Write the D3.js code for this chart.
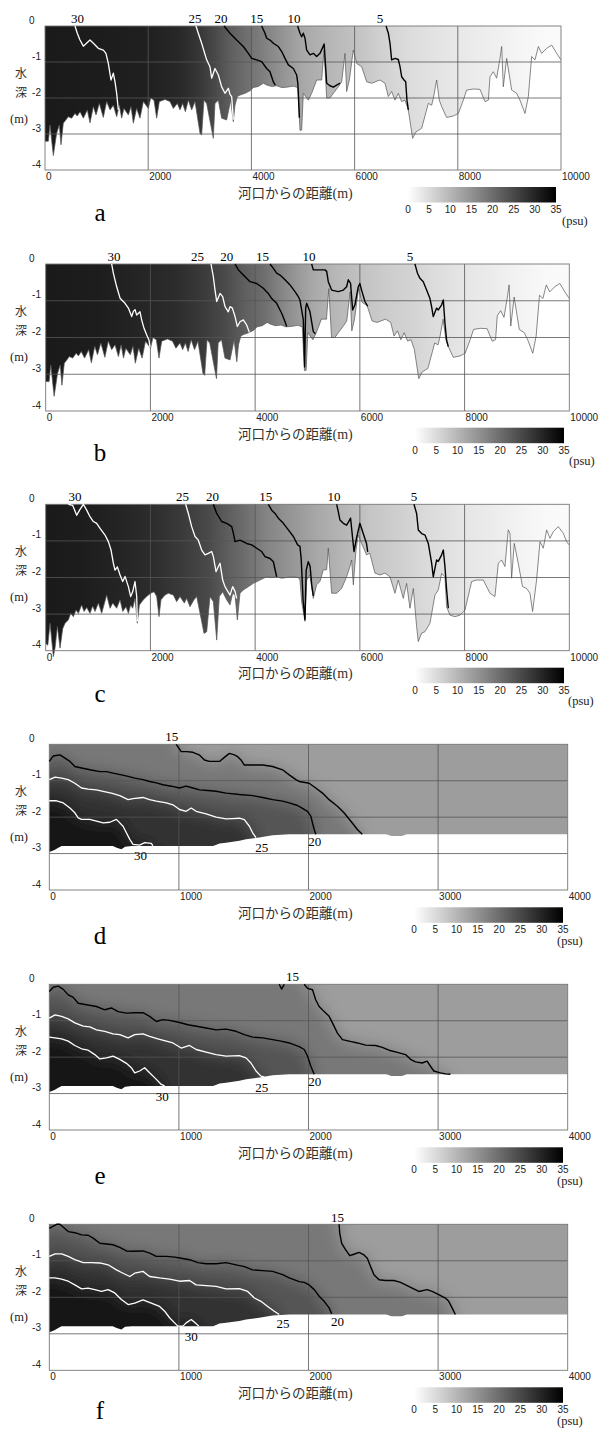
<!DOCTYPE html>
<html>
<head>
<meta charset="utf-8">
<script src="https://cdnjs.cloudflare.com/ajax/libs/d3/7.8.5/d3.min.js"></script>
<style>
body { margin:0; background:#fff; }
svg { display:block; }
</style>
</head>
<body>
<svg id="svg" width="600" height="1429"></svg>
<script>
// ---- data (distance m, elevation m) ----
var yTicks = [0,-1,-2,-3,-4];
var xTicksLong = [0,2000,4000,6000,8000,10000];
var xTicksShort = [0,1000,2000,3000,4000];
var cbTicks = [0,5,10,15,20,25,30,35];

// river bed, panels a & b
var bedA = [[0,-3.2],[65,-3.2],[97,-2.75],[161,-3.6],[226,-2.98],[277,-2.75],[310,-3.3],[355,-2.7],[452,-2.52],[517,-2.56],[581,-2.43],[626,-2.5],[678,-2.38],[743,-2.56],[820,-2.33],[872,-2.69],[937,-2.24],[989,-2.47],[1053,-2.15],[1130,-2.54],[1195,-2.1],[1260,-2.33],[1324,-2.2],[1389,-2.52],[1440,-2.2],[1486,-2.56],[1530,-2.29],[1615,-2.47],[1667,-2.24],[1712,-2.7],[1776,-2.29],[1841,-2.56],[1906,-2.1],[2003,-2.29],[2048,-2.0],[2112,-2.06],[2164,-2.56],[2216,-2.1],[2326,-2.04],[2422,-2.1],[2487,-2.29],[2564,-2.15],[2616,-2.33],[2668,-2.15],[2720,-2.38],[2778,-2.06],[2843,-2.33],[2907,-2.1],[3004,-2.98],[3036,-3.03],[3081,-2.06],[3133,-2.15],[3262,-3.12],[3294,-2.15],[3359,-2.06],[3424,-2.56],[3521,-2.61],[3598,-2.06],[3650,-2.66],[3682,-2.2],[3727,-1.96],[3779,-1.92],[3876,-1.87],[3973,-1.8],[4037,-1.71],[4134,-1.68],[4231,-1.59],[4296,-1.64],[4393,-1.68],[4490,-1.66],[4587,-1.71],[4684,-1.7],[4813,-1.67],[4900,-1.71],[4942,-2.9],[4974,-2.89],[5006,-1.87],[5103,-2.06],[5168,-1.87],[5265,-1.5],[5362,-1.5],[5407,-0.67],[5459,-2.0],[5523,-2.0],[5588,-1.87],[5685,-1.69],[5749,-1.55],[5814,-0.76],[5846,-1.82],[5898,-1.5],[5975,-0.67],[6040,-1.04],[6137,-1.13],[6234,-1.55],[6331,-1.59],[6491,-1.5],[6589,-1.59],[6653,-1.96],[6718,-1.82],[6783,-2.06],[6847,-1.87],[6912,-2.1],[6977,-2.06],[7041,-2.33],[7125,-3.12],[7190,-2.94],[7300,-2.84],[7429,-2.15],[7493,-2.2],[7526,-2.01],[7590,-1.5],[7642,-2.06],[7687,-2.24],[7784,-2.54],[7913,-2.5],[8010,-2.43],[8107,-2.06],[8171,-1.78],[8300,-1.75],[8430,-1.76],[8527,-2.1],[8592,-2.06],[8624,-1.41],[8688,-1.27],[8753,-1.45],[8818,-0.9],[8850,-0.57],[8882,-1.69],[8947,-0.9],[9044,-1.78],[9141,-1.87],[9205,-2.06],[9302,-2.43],[9367,-1.96],[9431,-0.85],[9496,-0.94],[9561,-0.57],[9625,-0.76],[9722,-0.62],[9819,-0.53],[9916,-0.76],[10000,-0.94]];

// river bed, panel c
var bedC = [[0,-3.8],[40,-3.85],[83,-3.25],[146,-4.16],[178,-3.93],[223,-3.34],[274,-3.93],[325,-3.4],[369,-3.25],[433,-3.16],[477,-2.98],[528,-3.07],[579,-2.89],[624,-2.98],[687,-2.75],[732,-2.93],[783,-2.82],[846,-2.98],[897,-2.78],[942,-2.93],[1006,-2.7],[1069,-2.98],[1165,-2.48],[1229,-2.84],[1280,-2.7],[1356,-2.84],[1420,-2.61],[1471,-2.93],[1534,-2.8],[1579,-2.98],[1623,-2.75],[1661,-2.84],[1706,-2.57],[1750,-3.25],[1789,-2.75],[1865,-2.61],[1929,-2.52],[2005,-2.43],[2069,-2.39],[2120,-2.52],[2164,-3.07],[2202,-2.61],[2279,-2.48],[2342,-2.43],[2438,-2.48],[2501,-2.66],[2565,-2.52],[2647,-2.7],[2692,-2.57],[2756,-2.8],[2832,-2.61],[2884,-2.52],[2948,-2.98],[3024,-3.53],[3075,-3.48],[3138,-2.52],[3202,-2.66],[3266,-3.71],[3316,-2.52],[3380,-2.39],[3456,-2.61],[3520,-2.75],[3571,-2.43],[3616,-2.48],[3660,-3.16],[3711,-2.43],[3775,-2.34],[3870,-2.25],[3966,-2.16],[4093,-2.07],[4220,-1.98],[4316,-2.0],[4411,-1.98],[4507,-2.02],[4602,-2.0],[4698,-1.98],[4825,-2.0],[4856,-2.07],[4888,-2.66],[4952,-3.2],[4984,-2.07],[5047,-1.93],[5111,-2.57],[5174,-2.2],[5238,-2.11],[5302,-1.79],[5366,-1.79],[5397,-1.2],[5461,-2.43],[5557,-2.43],[5652,-2.3],[5747,-1.98],[5811,-1.7],[5843,-1.52],[5875,-2.2],[5926,-1.25],[5969,-0.84],[6033,-1.07],[6127,-1.38],[6190,-1.34],[6289,-1.88],[6384,-1.93],[6479,-1.88],[6575,-1.98],[6670,-2.43],[6734,-2.07],[6829,-2.57],[6893,-2.16],[6957,-2.84],[7021,-2.3],[7084,-3.34],[7116,-3.75],[7180,-3.52],[7244,-3.48],[7339,-3.25],[7434,-2.48],[7498,-2.34],[7562,-1.89],[7625,-1.98],[7657,-2.8],[7721,-3.03],[7816,-3.07],[7913,-3.03],[8008,-2.89],[8135,-2.11],[8231,-2.07],[8357,-2.07],[8485,-2.43],[8580,-2.52],[8644,-1.61],[8707,-1.52],[8771,-1.7],[8834,-0.7],[8866,-0.79],[8898,-2.02],[8949,-1.07],[9025,-1.61],[9107,-2.25],[9184,-2.3],[9248,-2.43],[9299,-2.93],[9375,-2.07],[9440,-1.02],[9503,-1.2],[9567,-0.7],[9630,-0.93],[9694,-0.75],[9790,-0.61],[9885,-0.79],[9948,-1.02],[10000,-1.11]];

// river bed, panels d e f
var bedD = [[0,-2.96],[40,-2.9],[69,-2.84],[95,-2.79],[490,-2.79],[520,-2.84],[556,-2.88],[585,-2.81],[636,-2.79],[1264,-2.79],[1313,-2.72],[1364,-2.7],[1467,-2.65],[1518,-2.61],[1620,-2.56],[1723,-2.5],[1851,-2.47],[2600,-2.47],[2640,-2.52],[2720,-2.52],[2760,-2.47],[4000,-2.47]];

// salinity along the channel (psu), a b c
var salA = [[0,31.5],[1000,31.2],[2000,30.6],[2600,29.5],[3000,27.5],[3300,25],[3600,22],[3950,19.5],[4500,15.5],[5000,12],[5500,10],[6000,8.5],[6500,6.5],[7000,5],[7500,4],[8000,3.2],[8500,2.5],[9000,1.8],[9500,1],[10000,0.5]];
var salB = [[0,31.5],[1000,31],[1600,30.2],[2500,29],[3000,27],[3400,25],[3800,22],[4150,20],[4700,15],[5100,12],[5500,10],[6000,8.5],[6500,7],[7000,6],[7350,5],[8000,3.5],[8500,2.7],[9000,1.8],[9500,1],[10000,0.5]];
var salC = [[0,31.5],[700,31],[1300,30.2],[2000,29],[2600,27],[3100,25],[3500,22],[3800,20],[4200,17],[4600,15],[5200,12],[5700,10],[6200,8],[6800,6.5],[7300,5],[8000,3.5],[8500,2.7],[9000,1.8],[9500,1],[10000,0.5]];

// salinity of the layers between isohalines, d e f
var bandLevels = [15,20,25,30];
var bandFill = [13.5,18.5,23.5,28,32.5];

// isohalines [level, points]
var contA = [
  [30,[[581,0],[626,-0.2],[678,-0.39],[743,-0.56],[820,-0.46],[872,-0.39],[937,-0.48],[1033,-0.62],[1130,-0.67],[1181,-0.76],[1227,-1.04],[1279,-1.5],[1324,-1.31],[1357,-1.55],[1389,-1.87],[1421,-2.33]]],
  [25,[[2926,0],[2971,-0.2],[3036,-0.48],[3133,-0.94],[3197,-1.13],[3230,-1.45],[3294,-1.18],[3359,-1.36],[3424,-1.69],[3488,-1.87],[3553,-1.73],[3585,-1.9],[3618,-1.96],[3650,-2.6]]],
  [20,[[3469,0],[3585,-0.2],[3714,-0.39],[3843,-0.57],[3941,-0.76],[4005,-0.9],[4102,-0.94],[4199,-0.99],[4296,-1.18],[4360,-1.27],[4425,-1.55],[4464,-1.64]]],
  [15,[[4199,0],[4263,-0.2],[4296,-0.34],[4360,-0.39],[4425,-0.48],[4522,-0.57],[4587,-0.71],[4651,-0.9],[4716,-1.08],[4813,-1.18],[4877,-1.36],[4900,-1.6],[4910,-1.9],[4930,-2.55]]],
  [10,[[4895,0],[4942,-0.2],[4974,-0.3],[5006,-0.2],[5039,-0.34],[5071,-0.67],[5136,-0.8],[5200,-0.76],[5265,-0.85],[5330,-0.76],[5380,-0.6],[5410,-0.5],[5459,-1.59],[5523,-1.66],[5588,-1.7],[5652,-1.64],[5717,-1.59]]],
  [5,[[6609,0],[6654,-0.2],[6686,-0.48],[6718,-0.94],[6783,-0.9],[6847,-0.93],[6880,-1.13],[6912,-1.41],[6958,-1.5],[6990,-1.55],[7015,-2.06],[7041,-2.33]]]
];
var contB = [
  [30,[[1260,0],[1292,-0.25],[1356,-0.62],[1420,-0.93],[1515,-1.07],[1579,-1.2],[1642,-1.43],[1674,-1.29],[1706,-1.24],[1738,-1.39],[1801,-1.3],[1833,-1.52],[1878,-1.75],[1929,-1.93],[1973,-2.07],[1992,-2.27]]],
  [25,[[3157,0],[3201,-0.34],[3234,-0.71],[3266,-1.02],[3329,-0.8],[3380,-0.89],[3425,-1.16],[3488,-1.3],[3520,-1.16],[3565,-1.2],[3616,-1.43],[3660,-1.7],[3711,-1.57],[3775,-1.52],[3838,-1.66],[3889,-1.86]]],
  [20,[[3616,0],[3679,-0.16],[3775,-0.3],[3902,-0.48],[4029,-0.53],[4156,-0.66],[4252,-0.8],[4316,-0.94],[4411,-1.07],[4507,-1.34],[4571,-1.57],[4602,-1.7]]],
  [15,[[4284,0],[4348,-0.12],[4411,-0.25],[4475,-0.3],[4570,-0.43],[4666,-0.57],[4761,-0.75],[4825,-0.89],[4856,-0.98],[4888,-1.25],[4920,-1.52],[4945,-2.8],[4965,-1.2],[4984,-1.07],[5047,-1.3],[5111,-1.84],[5150,-1.9]]],
  [10,[[5079,0],[5111,-0.16],[5238,-0.16],[5334,-0.16],[5366,-0.2],[5397,-0.48],[5461,-0.71],[5588,-0.75],[5684,-0.71],[5747,-0.62],[5779,-0.43],[5823,-0.53],[5862,-1.25],[5906,-1.11],[5969,-0.62],[6000,-0.53],[6033,-0.71],[6097,-1.02],[6150,-1.15]]],
  [5,[[7052,0],[7100,-0.25],[7148,-0.39],[7211,-0.48],[7275,-0.71],[7339,-0.94],[7370,-1.16],[7402,-1.43],[7466,-1.2],[7498,-1.25],[7562,-1.11],[7594,-0.98],[7625,-1.61],[7657,-2.07],[7689,-2.25]]]
];
var contC = [
  [30,[[433,0],[516,-0.03],[592,-0.3],[655,-0.14],[719,0],[783,-0.16],[846,-0.34],[910,-0.47],[974,-0.52],[1038,-0.66],[1133,-0.84],[1197,-1.02],[1248,-1.25],[1292,-1.61],[1324,-1.8],[1369,-1.71],[1420,-1.93],[1471,-2.11],[1515,-1.97],[1579,-2.25],[1623,-2.52],[1661,-2.39],[1706,-2.11],[1738,-2.52],[1750,-3.2]]],
  [25,[[2673,0],[2724,-0.25],[2788,-0.61],[2852,-0.88],[2915,-0.98],[2979,-1.25],[3043,-1.38],[3106,-1.34],[3170,-1.29],[3202,-1.43],[3253,-1.84],[3297,-1.7],[3329,-1.61],[3380,-2.07],[3424,-2.25],[3520,-2.48],[3571,-2.25],[3616,-2.38],[3647,-2.57]]],
  [20,[[3202,0],[3266,-0.25],[3361,-0.47],[3456,-0.52],[3552,-0.61],[3584,-0.79],[3616,-1.02],[3711,-0.98],[3838,-1.07],[3934,-1.11],[4029,-1.2],[4125,-1.29],[4188,-1.43],[4284,-1.48],[4348,-1.57],[4411,-1.98]]],
  [15,[[4252,0],[4316,-0.16],[4380,-0.25],[4443,-0.38],[4539,-0.52],[4634,-0.7],[4730,-0.88],[4812,-1.11],[4856,-1.15],[4880,-1.5],[4915,-2.6],[4952,-3.15],[4975,-1.8],[5015,-1.57],[5050,-1.7],[5080,-2.2],[5111,-2.5]]],
  [10,[[5557,0],[5588,-0.2],[5620,-0.43],[5684,-0.52],[5747,-0.57],[5785,-0.48],[5823,-0.38],[5862,-0.93],[5888,-1.29],[5940,-0.9],[6000,-0.52],[6063,-0.79],[6127,-1.07],[6150,-1.3]]],
  [5,[[7033,0],[7084,-0.25],[7116,-0.7],[7180,-0.8],[7244,-0.84],[7307,-1.07],[7371,-1.61],[7402,-1.98],[7466,-1.52],[7498,-1.56],[7562,-1.38],[7594,-1.25],[7625,-1.7],[7657,-2.34],[7689,-2.84]]]
];
var contD = [
  [15,[[979,0],[1018,-0.2],[1060,-0.2],[1108,-0.22],[1160,-0.3],[1197,-0.43],[1236,-0.47],[1313,-0.47],[1351,-0.36],[1390,-0.25],[1428,-0.29],[1454,-0.34],[1479,-0.43],[1505,-0.57],[1569,-0.57],[1646,-0.57],[1723,-0.61],[1800,-0.7],[1851,-0.84],[1903,-0.97],[1928,-1.02],[2005,-1.07],[2056,-1.2],[2108,-1.34],[2159,-1.52],[2223,-1.7],[2274,-1.88],[2338,-2.16],[2377,-2.34],[2415,-2.47]]],
  [20,[[0,-0.47],[31,-0.32],[82,-0.29],[121,-0.38],[159,-0.47],[197,-0.61],[249,-0.65],[313,-0.7],[390,-0.75],[441,-0.75],[492,-0.79],[556,-0.84],[608,-0.88],[659,-0.93],[723,-0.97],[774,-1.02],[826,-1.06],[877,-1.11],[941,-1.15],[1005,-1.2],[1056,-1.15],[1108,-1.2],[1159,-1.25],[1223,-1.27],[1287,-1.29],[1364,-1.34],[1467,-1.38],[1569,-1.41],[1646,-1.46],[1723,-1.52],[1800,-1.56],[1851,-1.61],[1915,-1.68],[1950,-1.75],[1992,-1.84],[2018,-1.97],[2031,-2.16],[2044,-2.34],[2056,-2.47]]],
  [25,[[0,-0.97],[44,-0.9],[95,-0.93],[146,-0.97],[197,-1.07],[249,-1.2],[300,-1.23],[364,-1.25],[415,-1.29],[479,-1.34],[544,-1.41],[608,-1.52],[646,-1.49],[723,-1.46],[774,-1.52],[826,-1.56],[903,-1.61],[954,-1.66],[1005,-1.79],[1056,-1.84],[1095,-1.75],[1133,-1.84],[1210,-1.91],[1287,-2.0],[1364,-2.05],[1415,-2.04],[1467,-2.03],[1505,-2.07],[1544,-2.25],[1569,-2.43],[1595,-2.56]]],
  [30,[[0,-1.55],[56,-1.55],[108,-1.61],[159,-1.75],[197,-1.88],[223,-2.02],[249,-2.06],[313,-2.06],[364,-2.11],[415,-2.16],[467,-2.14],[518,-2.06],[569,-2.25],[595,-2.43],[621,-2.61],[646,-2.75],[697,-2.77],[736,-2.7],[787,-2.72],[800,-2.79]]]
];
var contE = [
  [15,[[1967,0],[1992,-0.11],[2031,-0.15],[2056,-0.43],[2082,-0.61],[2121,-0.75],[2159,-0.88],[2185,-1.06],[2223,-1.34],[2262,-1.52],[2313,-1.56],[2377,-1.61],[2441,-1.67],[2518,-1.68],[2569,-1.73],[2621,-1.81],[2685,-1.87],[2749,-1.93],[2787,-2.06],[2826,-2.13],[2877,-2.16],[2915,-2.11],[2941,-2.25],[2967,-2.38],[3018,-2.43],[3056,-2.46],[3095,-2.47]]],
  [20,[[0,-0.2],[31,-0.08],[69,-0.05],[108,-0.14],[146,-0.29],[185,-0.36],[223,-0.52],[287,-0.56],[364,-0.61],[428,-0.7],[479,-0.65],[531,-0.75],[595,-0.79],[659,-0.78],[723,-0.78],[774,-0.88],[826,-1.02],[877,-0.97],[928,-0.99],[1005,-1.05],[1069,-1.11],[1146,-1.16],[1210,-1.2],[1287,-1.25],[1364,-1.23],[1441,-1.29],[1505,-1.38],[1569,-1.45],[1646,-1.47],[1723,-1.52],[1787,-1.56],[1851,-1.61],[1928,-1.71],[1967,-1.79],[1992,-1.97],[2018,-2.25],[2044,-2.47]]],
  [25,[[0,-0.93],[44,-0.84],[95,-0.88],[146,-0.95],[197,-1.06],[262,-1.15],[313,-1.17],[364,-1.25],[428,-1.29],[492,-1.36],[544,-1.38],[608,-1.47],[659,-1.38],[723,-1.36],[774,-1.43],[838,-1.5],[903,-1.56],[954,-1.61],[1018,-1.75],[1082,-1.68],[1133,-1.79],[1210,-1.86],[1287,-1.93],[1364,-1.97],[1467,-1.96],[1518,-2.02],[1556,-2.16],[1595,-2.38],[1633,-2.52],[1659,-2.54]]],
  [30,[[0,-1.45],[44,-1.47],[95,-1.5],[146,-1.56],[197,-1.68],[249,-1.77],[300,-1.81],[351,-1.93],[390,-2.05],[441,-2.02],[492,-1.97],[544,-2.06],[595,-2.17],[633,-2.29],[659,-2.43],[697,-2.38],[736,-2.29],[774,-2.43],[826,-2.61],[864,-2.75],[890,-2.79]]],
  [15,[[1774,0],[1792,-0.13],[1813,0]]]
];
var contF = [
  [15,[[2236,0],[2241,-0.25],[2256,-0.52],[2287,-0.7],[2318,-0.86],[2351,-0.82],[2390,-0.77],[2428,-0.84],[2454,-0.93],[2479,-1.16],[2505,-1.38],[2544,-1.52],[2595,-1.54],[2659,-1.54],[2710,-1.59],[2749,-1.66],[2800,-1.75],[2851,-1.84],[2915,-1.79],[2954,-1.84],[3005,-1.93],[3056,-2.02],[3082,-2.11],[3108,-2.29],[3133,-2.47]]],
  [20,[[0,-0.11],[31,-0.05],[56,0],[82,0],[108,-0.08],[146,-0.2],[197,-0.23],[249,-0.29],[300,-0.3],[338,-0.38],[390,-0.52],[441,-0.54],[492,-0.56],[544,-0.63],[595,-0.73],[646,-0.74],[723,-0.73],[774,-0.79],[826,-0.88],[903,-0.88],[967,-0.9],[1018,-0.93],[1082,-0.97],[1146,-1.05],[1210,-1.08],[1287,-1.08],[1364,-1.05],[1441,-1.11],[1505,-1.16],[1569,-1.25],[1646,-1.27],[1723,-1.29],[1800,-1.38],[1851,-1.47],[1928,-1.57],[1967,-1.59],[2005,-1.66],[2044,-1.79],[2082,-1.97],[2121,-2.11],[2159,-2.29],[2179,-2.45]]],
  [25,[[0,-0.88],[44,-0.81],[95,-0.81],[146,-0.88],[197,-0.97],[262,-1.05],[326,-1.05],[390,-1.06],[454,-1.11],[518,-1.25],[569,-1.34],[621,-1.43],[659,-1.34],[723,-1.29],[774,-1.43],[851,-1.47],[928,-1.5],[1005,-1.56],[1082,-1.54],[1133,-1.66],[1210,-1.68],[1287,-1.7],[1364,-1.77],[1467,-1.76],[1531,-1.84],[1582,-2.02],[1633,-2.11],[1685,-2.25],[1736,-2.38],[1774,-2.47]]],
  [30,[[0,-1.47],[44,-1.47],[95,-1.5],[146,-1.56],[197,-1.66],[249,-1.77],[300,-1.75],[351,-1.79],[403,-1.84],[454,-1.79],[505,-1.88],[556,-2.06],[608,-2.2],[659,-2.16],[723,-2.07],[787,-2.16],[851,-2.25],[890,-2.38],[928,-2.56],[967,-2.7],[992,-2.79],[1031,-2.79],[1056,-2.7],[1095,-2.61],[1125,-2.7],[1154,-2.79]]]
];

// isohaline labels [level, distance, elevation of baseline]
var labA = [[30,630,0.08],[25,2907,0.08],[20,3411,0.08],[15,4102,0.08],[10,4826,0.08],[5,6492,0.08]];
var labB = [[30,1304,0.08],[25,2899,0.08],[20,3457,0.08],[15,4141,0.08],[10,5029,0.08],[5,6957,0.08]];
var labC = [[30,560,0.08],[25,2612,0.08],[20,3186,0.08],[15,4203,0.08],[10,5506,0.08],[5,7034,0.08]];
var labD = [[15,944,0.09],[20,2048,-2.8],[25,1640,-2.96],[30,704,-3.18]];
var labE = [[15,1877,0.1],[20,2048,-2.79],[25,1640,-2.97],[30,871,-3.2]];
var labF = [[15,2223,0.07],[20,2223,-2.79],[25,1804,-2.83],[30,1095,-3.2]];

// ---- layout ----
var panels = [
  {id:'a', xmax:10000, ticks:xTicksLong, left:45, right:561, top:26, bottom:170, cb:[408,556,187], bed:bedA, sal:salA, cont:contA, lab:labA, letterY:221, psuDx:6},
  {id:'b', xmax:10000, ticks:xTicksLong, left:45.7, right:569.3, top:264, bottom:411, cb:[415,564,427.7], bed:bedA, sal:salB, cont:contB, lab:labB, letterY:461, psuDx:5},
  {id:'c', xmax:10000, ticks:xTicksLong, left:45.7, right:569.3, top:504.3, bottom:650.7, cb:[415,564,667.7], bed:bedC, sal:salC, cont:contC, lab:labC, letterY:702, psuDx:4},
  {id:'d', xmax:4000, ticks:xTicksShort, left:49.3, right:567.7, top:744.3, bottom:890, cb:[414,563,907.3], bed:bedD, cont:contD, lab:labD, letterY:944, psuDx:-6},
  {id:'e', xmax:4000, ticks:xTicksShort, left:49.3, right:567.7, top:984.3, bottom:1130, cb:[414,563,1147.3], bed:bedD, cont:contE, lab:labE, letterY:1184, psuDx:-6},
  {id:'f', xmax:4000, ticks:xTicksShort, left:49.3, right:567.7, top:1224.3, bottom:1370.3, cb:[414,563,1387.3], bed:bedD, cont:contF, lab:labF, letterY:1419, psuDx:-6}
];

var sans = '"Liberation Sans", Arial, sans-serif';
var serif = '"Liberation Serif", "Times New Roman", serif';
var cjk = '"Noto Sans CJK JP", sans-serif';

var svg = d3.select('svg');
var defs = svg.append('defs');
var grey = d3.scaleLinear().domain([0,35]).range(['#ffffff','#000000']);

defs.append('filter')
    .attr('id','soft')
    .attr('x','-30%').attr('y','-30%').attr('width','160%').attr('height','160%')
    .append('feGaussianBlur')
    .attr('stdDeviation',8);

// colour bar gradient
var cbGrad = defs.append('linearGradient').attr('id','cbgrad');
cbGrad.selectAll('stop')
    .data(cbTicks)
    .enter()
    .append('stop')
    .attr('offset', function(d){ return d/35; })
    .attr('stop-color', function(d){ return grey(d); });

panels.forEach(drawPanel);

function drawPanel(p){
    var x = d3.scaleLinear().domain([0,p.xmax]).range([p.left,p.right]);
    var y = d3.scaleLinear().domain([0,-4]).range([p.top,p.bottom]);
    var g = svg.append('g');

    var water = d3.area()
        .x(function(d){ return x(d[0]); })
        .y0(y(0))
        .y1(function(d){ return y(d[1]); });
    var line = d3.line()
        .x(function(d){ return x(d[0]); })
        .y(function(d){ return y(d[1]); });

    defs.append('clipPath').attr('id','clip'+p.id)
        .append('path').attr('d', water(p.bed));

    if (p.sal){
        // salinity changes mostly along the river
        var grad = defs.append('linearGradient')
            .attr('id','grad'+p.id)
            .attr('gradientUnits','userSpaceOnUse')
            .attr('x1',x(0)).attr('x2',x(p.xmax))
            .attr('y1',0).attr('y2',0);
        grad.selectAll('stop')
            .data(p.sal)
            .enter()
            .append('stop')
            .attr('offset', function(d){ return d[0]/p.xmax; })
            .attr('stop-color', function(d){ return grey(d[1]); });

        g.append('path')
            .attr('d', water(p.bed))
            .attr('fill','url(#grad'+p.id+')');
        g.append('path')
            .attr('d', line(p.bed))
            .attr('fill','none')
            .attr('stroke','#555')
            .attr('stroke-width',0.7);
    } else {
        // layered field: fill between isohalines then soften
        var field = g.append('g')
            .attr('clip-path','url(#clip'+p.id+')')
            .append('g')
            .attr('filter','url(#soft)');
        field.append('rect')
            .attr('x', x(-600)).attr('y', y(1))
            .attr('width', x(p.xmax+600)-x(-600))
            .attr('height', y(-6)-y(1))
            .attr('fill', grey(bandFill[0]));
        bandLevels.forEach(function(lev,i){
            var c = p.cont.find(function(k){ return k[0]===lev; });
            var pts = c[1];
            var last = pts[pts.length-1];
            var poly = pts.concat([[last[0],-6],[-600,-6]]);
            if (pts[0][0] === 0) poly.push([-600, pts[0][1]]);
            else poly.push([-600,1],[pts[0][0],1]);
            field.append('path')
                .attr('d', line(poly)+'Z')
                .attr('fill', grey(bandFill[i+1]));
        });
    }

    // grid
    g.selectAll('.vgrid')
        .data(p.ticks.slice(1,-1))
        .enter()
        .append('line')
        .attr('x1', function(d){ return x(d); })
        .attr('x2', function(d){ return x(d); })
        .attr('y1', p.top).attr('y2', p.bottom)
        .attr('stroke','#555').attr('stroke-width',0.8);
    g.selectAll('.hgrid')
        .data(yTicks.slice(1,-1))
        .enter()
        .append('line')
        .attr('x1', p.left).attr('x2', p.right)
        .attr('y1', function(d){ return y(d); })
        .attr('y2', function(d){ return y(d); })
        .attr('stroke','#555').attr('stroke-width',0.8);
    g.append('rect')
        .attr('x',p.left).attr('y',p.top)
        .attr('width',p.right-p.left).attr('height',p.bottom-p.top)
        .attr('fill','none').attr('stroke','#777').attr('stroke-width',0.9);

    // isohalines
    g.selectAll('.iso')
        .data(p.cont)
        .enter()
        .append('path')
        .attr('d', function(d){ return line(d[1]); })
        .attr('fill','none')
        .attr('stroke', function(d){ return d[0]>=25 ? '#ffffff' : '#000000'; })
        .attr('stroke-width', function(d){ return d[0]>=25 ? 1.3 : 1.4; })
        .attr('stroke-linejoin','round');

    g.selectAll('.isolab')
        .data(p.lab)
        .enter()
        .append('text')
        .text(function(d){ return d[0]; })
        .attr('x', function(d){ return x(d[1]); })
        .attr('y', function(d){ return y(d[2]); })
        .attr('text-anchor','middle')
        .style('font-family', serif)
        .attr('font-size', 13)
        .attr('fill','#000');

    // axes labels
    g.selectAll('.xt')
        .data(p.ticks)
        .enter()
        .append('text')
        .text(function(d){ return d; })
        .attr('x', function(d){ return x(d)+1; })
        .attr('y', p.bottom+10)
        .style('font-family', sans)
        .attr('font-size', 10)
        .attr('fill','#222');
    g.selectAll('.yt')
        .data(yTicks)
        .enter()
        .append('text')
        .text(function(d){ return d; })
        .attr('x', function(d){ return d===0 ? 34.5 : 41; })
        .attr('y', function(d){ return y(d)-2.5; })
        .attr('text-anchor','end')
        .style('font-family', sans)
        .attr('font-size', 10)
        .attr('fill','#222');

    g.append('text').text('水')
        .attr('x',21).attr('y',p.top+52)
        .attr('text-anchor','middle')
        .style('font-family', cjk).attr('font-size',12).attr('fill','#333');
    g.append('text').text('深')
        .attr('x',21).attr('y',p.top+71)
        .attr('text-anchor','middle')
        .style('font-family', cjk).attr('font-size',12).attr('fill','#333');
    g.append('text').text('(m)')
        .attr('x',19).attr('y',p.top+97)
        .attr('text-anchor','middle')
        .style('font-family', serif).attr('font-size',12.5).attr('fill','#222');

    var xt = g.append('text')
        .attr('x',238).attr('y',p.bottom+27.5)
        .attr('fill','#333');
    xt.append('tspan').text('河口からの距離')
        .style('font-family', cjk).attr('font-size',13.5);
    xt.append('tspan').text('(m)')
        .style('font-family', serif).attr('font-size',14);

    g.append('text').text(p.id)
        .attr('x',100).attr('y',p.letterY)
        .attr('text-anchor','middle')
        .style('font-family', serif).attr('font-size',25).attr('fill','#000');

    // colour bar
    var cbx = d3.scaleLinear().domain([0,35]).range([p.cb[0],p.cb[1]]);
    g.append('rect')
        .attr('x',p.cb[0]).attr('y',p.cb[2])
        .attr('width',p.cb[1]-p.cb[0]).attr('height',15.5)
        .attr('fill','url(#cbgrad)');
    g.selectAll('.cbt')
        .data(cbTicks)
        .enter()
        .append('text')
        .text(function(d){ return d; })
        .attr('x', function(d){ return cbx(d); })
        .attr('y', p.cb[2]+26)
        .attr('text-anchor','middle')
        .style('font-family', sans).attr('font-size',10).attr('fill','#222');
    g.append('text').text('(psu)')
        .attr('x', p.cb[1]+p.psuDx).attr('y', p.cb[2]+37.5)
        .style('font-family', serif).attr('font-size',12.5).attr('fill','#222');
}
</script>
</body>
</html>
